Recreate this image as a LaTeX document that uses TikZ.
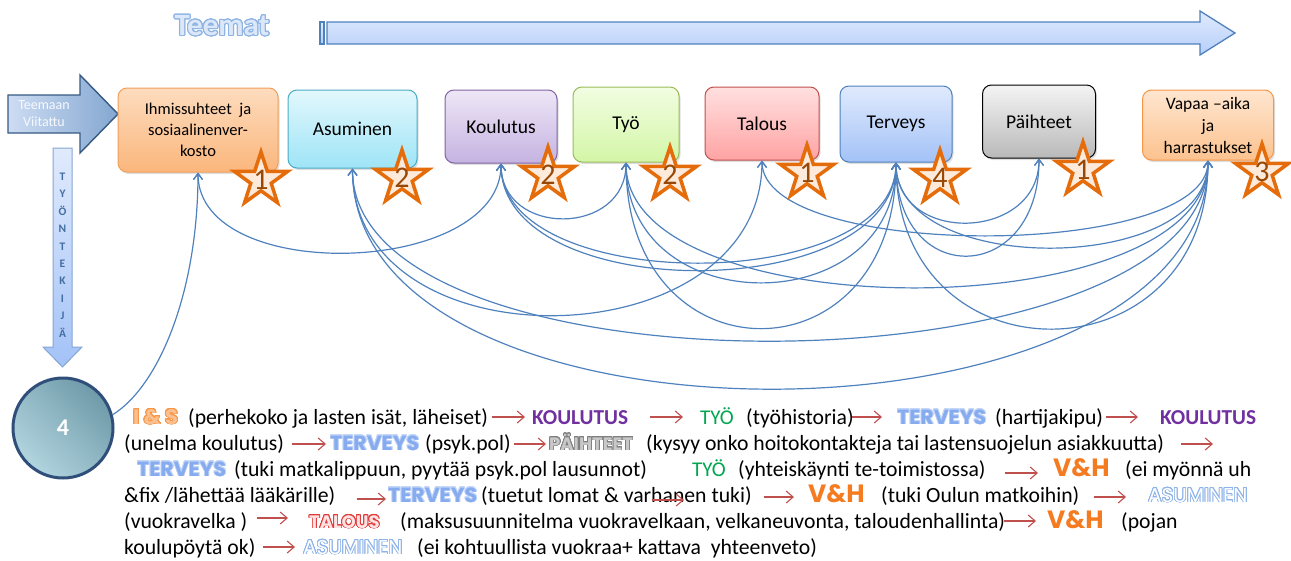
\documentclass[tikz,border=0pt]{standalone}
\usepackage{fontspec}
\setmainfont{Carlito}
\newfontfamily\kwfont{Poppins}
\usepackage[copies]{contour}
\contournumber{24}
\usetikzlibrary{shapes.geometric,arrows.meta,shadows}

% palette
\definecolor{linkblue}{HTML}{4F81BD}
\definecolor{redarrow}{HTML}{C0504D}
\definecolor{isA}{HTML}{FDDCBE}\definecolor{isB}{HTML}{FBB67C}\definecolor{isD}{HTML}{F0A05A}
\definecolor{asA}{HTML}{E2F8FD}\definecolor{asB}{HTML}{9EE4F6}\definecolor{asD}{HTML}{4BACC6}
\definecolor{koA}{HTML}{EEE6F6}\definecolor{koB}{HTML}{C5B3E1}\definecolor{koD}{HTML}{8064A2}
\definecolor{tyA}{HTML}{F2FDE2}\definecolor{tyB}{HTML}{D3F6A6}\definecolor{tyD}{HTML}{9BBB59}
\definecolor{taA}{HTML}{FFE0E0}\definecolor{taB}{HTML}{FFA3A3}\definecolor{taD}{HTML}{C0504D}
\definecolor{teA}{HTML}{E0EAFD}\definecolor{teB}{HTML}{A3C2F7}\definecolor{teD}{HTML}{4F81BD}
\definecolor{paA}{HTML}{F4F4F4}\definecolor{paB}{HTML}{B9B9B9}\definecolor{paD}{HTML}{000000}
\definecolor{vhA}{HTML}{FEE6D0}\definecolor{vhB}{HTML}{FCC28E}\definecolor{vhD}{HTML}{F79646}
\definecolor{starline}{HTML}{E46C0A}
\definecolor{starfill}{HTML}{FDEADA}
\definecolor{starnum}{HTML}{974806}
\definecolor{isfill}{HTML}{FAC08F}\definecolor{isline}{HTML}{F79646}
\definecolor{koulkw}{HTML}{7030A0}
\definecolor{tyokw}{HTML}{00A650}
\definecolor{tervfill}{HTML}{86ABEE}\definecolor{tervline}{HTML}{C4D6F8}
\definecolor{paihfill}{HTML}{C8C8C8}\definecolor{paihline}{HTML}{7F7F7F}
\definecolor{vhkw}{HTML}{F47B20}
\definecolor{asumline}{HTML}{8DB3E8}
\definecolor{talfill}{HTML}{FFE2E2}\definecolor{talline}{HTML}{E03C3C}
\definecolor{teematfill}{HTML}{DCE8F9}\definecolor{teematline}{HTML}{8EB4E3}
\definecolor{circA}{HTML}{B2D5DF}\definecolor{circB}{HTML}{6F9AA9}\definecolor{circD}{HTML}{2F4F7A}

% keywords of the path description
\newcommand\kIS{{\kwfont\bfseries\fontsize{21}{21}\selectfont\contourlength{0.9pt}\color{isfill}\contour{isline}{I \& S}}}
\newcommand\kKOUL{{\bfseries\fontsize{21.3}{21.3}\selectfont\color{koulkw}KOULUTUS}}
\newcommand\kTYO{{\fontsize{21}{21}\selectfont\color{tyokw}TYÖ}}
\newcommand\kTERV{{\kwfont\bfseries\fontsize{20.5}{20.5}\selectfont\contourlength{0.7pt}\color{tervfill}\contour{tervline}{TERVEYS}}}
\newcommand\kPAIH{{\kwfont\bfseries\fontsize{18}{18}\selectfont\contourlength{0.7pt}\color{paihfill}\contour{paihline}{PÄIHTEET}}}
\newcommand\kVH{{\kwfont\bfseries\fontsize{25}{25}\selectfont\color{vhkw}V\&H}}
\newcommand\kASUM{{\kwfont\fontsize{20}{20}\selectfont\contourlength{0.8pt}\color{white}\contour{asumline}{ASUMINEN}}}
\newcommand\kTAL{{\kwfont\bfseries\fontsize{18}{18}\selectfont\contourlength{0.8pt}\color{talfill}\contour{talline}{TALOUS}}}

\begin{document}
\begin{tikzpicture}[x=1pt,y=-1pt,
  tbox/.style={rounded corners=9pt, draw, line width=1pt, align=center,
    font=\fontsize{19.5}{22}\selectfont, inner sep=2pt,
    drop shadow={opacity=0.25, shadow xshift=1.5pt, shadow yshift=-2pt}},
  starshape/.style={star, star points=5, star point ratio=2.6, minimum size=56pt,
    inner sep=0pt, draw=starline, line width=3.5pt, fill=starfill},
  numlab/.style={font=\fontsize{30}{30}\selectfont, text=starnum, inner sep=0pt},
  link/.style={draw=linkblue, line width=1.2pt,
    {Straight Barb[length=6pt,width=9pt]}-{Straight Barb[length=6pt,width=9pt]}},
  linkone/.style={draw=linkblue, line width=1.2pt, -{Straight Barb[length=6pt,width=9pt]}},
  redarr/.style={draw=redarrow, line width=1.1pt, -{Straight Barb[length=7pt,width=12pt]}},
  txt/.style={anchor=base west, inner sep=0pt, font=\fontsize{21.7}{21.7}\selectfont}]
\useasboundingbox (0,0) rectangle (1291,560);

% ---- title and the long theme arrow
\node[inner sep=0pt] (teemat) at (222,26)
  {\bfseries\fontsize{31}{31}\selectfont\contourlength{1.1pt}\color{teematfill}\contour{teematline}{Teemat}};
\path[draw=linkblue, line width=1.3pt, top color=teA, bottom color=teB!80]
  (327,22) -- (1200,22) -- (1200,11) -- (1235,33) -- (1200,55) -- (1200,44) -- (327,44) -- cycle;
\path[draw=linkblue, line width=1.3pt, top color=teA, bottom color=teB!80]
  (320,22) rectangle (324,44);

% ---- "Teemaan Viitattu" arrow
\path[draw=black!30!linkblue, line width=1.4pt, left color=teB!60!linkblue!40, right color=linkblue!70]
  (8,95) -- (80,95) -- (80,75) -- (118,114) -- (80,153) -- (80,133) -- (8,133) -- cycle;
\node[align=center, font=\fontsize{14}{17}\selectfont, text=white!90!teB] (viit) at (44,114) {Teemaan\\Viitattu};

% ---- worker arrow
\path[draw=linkblue!70, line width=1pt, top color=teA, bottom color=teB]
  (53,148) -- (72,148) -- (72,347) -- (82,347) -- (62.5,367) -- (43,347) -- (53,347) -- cycle;
\node[align=center, font=\bfseries\fontsize{11.5}{17.4}\selectfont, text=linkblue!85!black] (tyont) at (62.5,255)
  {T\\Y\\Ö\\N\\T\\E\\K\\I\\J\\Ä};

% ---- theme boxes
\node[tbox, draw=isD, top color=isA, bottom color=isB, minimum width=160pt, minimum height=84pt,
  font=\fontsize{16.5}{21}\selectfont] (is) at (198,130)
  {Ihmissuhteet\ \ ja\\sosiaalinenver-\\kosto};
\node[tbox, draw=asD, top color=asA, bottom color=asB, minimum width=129pt, minimum height=78pt] (asum) at (352.5,129) {Asuminen};
\node[tbox, draw=koD, top color=koA, bottom color=koB, minimum width=112pt, minimum height=73pt] (koul) at (501,126.5) {Koulutus};
\node[tbox, draw=tyD, top color=tyA, bottom color=tyB, minimum width=106pt, minimum height=75pt] (tyo) at (626,124.5) {Työ};
\node[tbox, draw=taD, top color=taA, bottom color=taB, minimum width=114pt, minimum height=73pt] (tal) at (762,123.5) {Talous};
\node[tbox, draw=teD, top color=teA, bottom color=teB, minimum width=112pt, minimum height=76pt] (terv) at (896,124) {Terveys};
\node[tbox, draw=paD, top color=paA, bottom color=paB, minimum width=113pt, minimum height=73pt] (paih) at (1039,121.5) {Päihteet};
\node[tbox, draw=vhD, top color=vhA, bottom color=vhB, minimum width=131pt, minimum height=70pt,
  font=\fontsize{17.5}{22}\selectfont] (vh) at (1208,125) {Vapaa –aika\\ja\\harrastukset};

% ---- worker circle
\node[circle, minimum size=100pt, draw=circD, line width=3pt,
  shading=axis, left color=circA, right color=circB, shading angle=135,
  font=\bfseries\fontsize{24}{24}\selectfont, text=white] (c4) at (63,428) {4};

% ---- links between the themes
\newcommand\linkarc[3]{\draw[link] (#1.south) .. controls +(0,#3) and +(0,#3) .. (#2.south);}
\draw[linkone] (c4.15) .. controls (160,385) and (198,290) .. (is.south);
\linkarc{is}{koul}{113}
\linkarc{koul}{tyo}{74}
\linkarc{koul}{terv}{133}
\linkarc{koul}{terv}{143}
\linkarc{tyo}{terv}{160}
\linkarc{tyo}{terv}{221}
\linkarc{tyo}{vh}{168}
\linkarc{asum}{tal}{201}
\linkarc{asum}{vh}{235}
\linkarc{asum}{vh}{299}
\linkarc{tal}{vh}{100}
\linkarc{terv}{paih}{83}
\linkarc{terv}{paih}{127}
\linkarc{terv}{vh}{115}
\linkarc{terv}{vh}{223}

% ---- rating stars
\node[starshape, label={[numlab]center:1}] (st1) at (261,180) {};
\node[starshape, label={[numlab]center:2}] (st2) at (402,178) {};
\node[starshape, label={[numlab]center:2}] (st3) at (548,175) {};
\node[starshape, label={[numlab]center:2}] (st4) at (670,175) {};
\node[starshape, label={[numlab]center:1}] (st5) at (807,173) {};
\node[starshape, label={[numlab]center:4}] (st6) at (940,178) {};
\node[starshape, label={[numlab]center:1}] (st7) at (1083,170) {};
\node[starshape, label={[numlab]center:3}] (st8) at (1262,172) {};

% ---- path description
\newcommand\rarr[3]{\draw[redarr] (#1,#3) -- (#2,#3);}
% line 1
\node[txt] (t1a) at (133,424) {\kIS};
\node[txt] (t1b) at (188,424) {(perhekoko ja lasten isät, läheiset)};
\rarr{492}{525}{417}
\node[txt] (t1c) at (532,424) {\kKOUL};
\rarr{650}{683}{417}
\node[txt] (t1d) at (700,424) {\kTYO};
\node[txt] (t1e) at (746,424) {(työhistoria)};
\rarr{852}{882}{417}
\node[txt] (t1f) at (897,424) {\kTERV};
\node[txt] (t1g) at (995,424) {(hartijakipu)};
\rarr{1106}{1138}{417}
\node[txt] (t1h) at (1160,424) {\kKOUL};
% line 2
\node[txt] (t2a) at (124,450) {(unelma koulutus)};
\rarr{292}{326}{444}
\node[txt] (t2b) at (330,450) {\kTERV};
\node[txt] (t2c) at (425,450) {(psyk.pol)};
\rarr{514}{546}{444}
\node[txt] (t2d) at (549,450) {\kPAIH};
\node[txt] (t2e) at (646,450) {(kysyy onko hoitokontakteja tai lastensuojelun asiakkuutta)};
\rarr{1181}{1213}{444}
% line 3
\node[txt] (t3a) at (137,476) {\kTERV};
\node[txt] (t3b) at (234,476) {(tuki matkalippuun, pyytää psyk.pol lausunnot)};
\node[txt] (t3c) at (692,476) {\kTYO};
\node[txt] (t3d) at (738,476) {(yhteiskäynti te-toimistossa)};
\rarr{1005}{1038}{473}
\node[txt] (t3e) at (1053,476) {\kVH};
\node[txt] (t3f) at (1125,476) {(ei myönnä uh};
% line 4
\node[txt] (t4a) at (124,502) {\&fix /lähettää lääkärille)};
\rarr{357}{386}{499}
\node[txt] (t4b) at (388,502) {\kTERV};
\node[txt] (t4c) at (481,502) {(tuetut lomat \& varhanen tuki)};
\rarr{652}{684}{500}
\rarr{764}{794}{497}
\node[txt] (t4d) at (808,502) {\kVH};
\node[txt] (t4e) at (881,502) {(tuki Oulun matkoihin)};
\rarr{1094}{1126}{497}
\node[txt] (t4f) at (1148,502) {\kASUM};
% line 5
\node[txt] (t5a) at (124,528) {(vuokravelka )};
\rarr{257}{288}{518}
\node[txt] (t5b) at (309,528) {\kTAL};
\node[txt] (t5c) at (400,528) {(maksusuunnitelma vuokravelkaan, velkaneuvonta, taloudenhallinta)};
\rarr{1004}{1036}{521}
\node[txt] (t5d) at (1047,528) {\kVH};
\node[txt] (t5e) at (1121,528) {(pojan};
% line 6
\node[txt] (t6a) at (124,554) {koulupöytä ok)};
\rarr{263}{295}{547}
\node[txt] (t6b) at (303,554) {\kASUM};
\node[txt] (t6c) at (417,554) {(ei kohtuullista vuokraa+ kattava\ \ yhteenveto)};
\end{tikzpicture}
\end{document}
